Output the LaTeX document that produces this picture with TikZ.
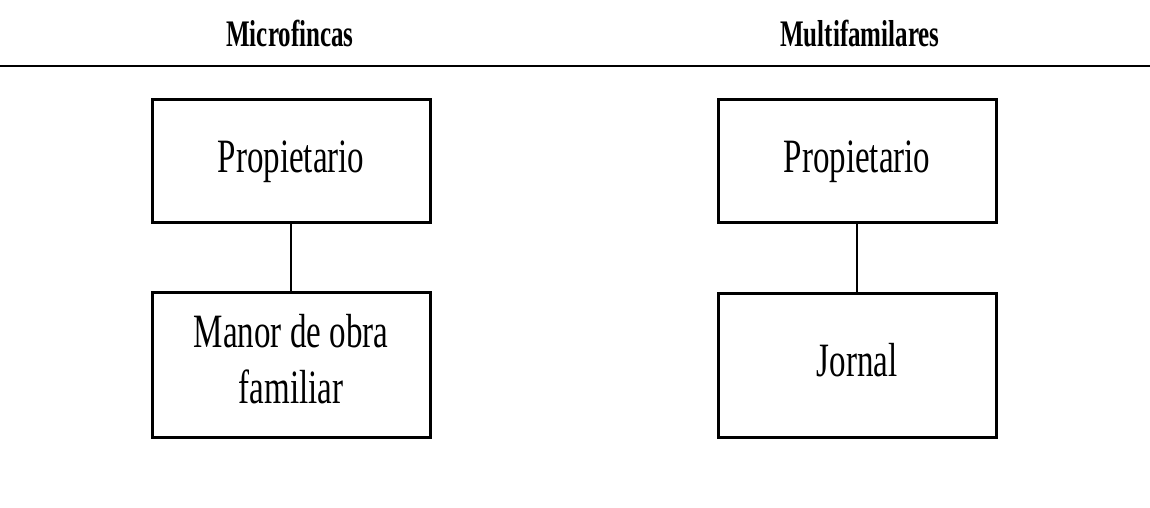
\documentclass[tikz,border=0pt]{standalone}
\usepackage{fontspec}
\usepackage{graphicx}
\setmainfont{Liberation Serif}
\usetikzlibrary{positioning}

% texto estrecho y alto, como en el original
\newcommand{\estirar}[2]{\scalebox{1}[#1]{\begin{tabular}{@{}c@{}}#2\end{tabular}}}

\begin{document}
\begin{tikzpicture}[x=0.5pt,y=-0.5pt,
caja/.style={rectangle,draw=black,line width=1.5pt,minimum width=139pt,inner sep=0pt,font=\fontsize{16.5pt}{19pt}\selectfont},
titulo/.style={font=\fontsize{12.5pt}{15pt}\selectfont\bfseries,inner sep=0pt}
]
\useasboundingbox (0,0) rectangle (1150,508);

\node[titulo](micro) at (290,38){\estirar{1.5}{Microfincas}};
\node[titulo](multi) at (860,38){\estirar{1.5}{Multifamilares}};
\coordinate (izq) at (0,66);
\coordinate (der) at (1150,66);
\draw[line width=1.1pt] (izq)--(der);

\node[caja,minimum height=61pt](prop-a) at (291,161){\estirar{1.45}{Propietario}};
\node[caja,minimum height=72.5pt](mano) at (291,364.5){\estirar{1.45}{Manor de obra\\familiar}};

\node[caja,minimum height=61pt](prop-b) at (857,161){\estirar{1.45}{Propietario}};
\node[caja,minimum height=72pt](jornal) at (857,365){\estirar{1.45}{Jornal}};

\begin{scope}[line width=1.3pt]
\draw (prop-a)--(mano);
\draw (prop-b)--(jornal);
\end{scope}
\end{tikzpicture}
\end{document}
